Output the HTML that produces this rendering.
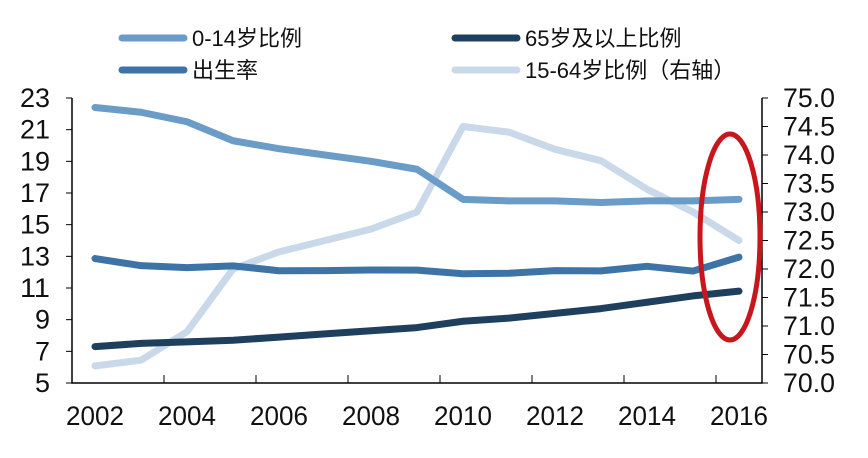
<!DOCTYPE html>
<html><head><meta charset="utf-8"><style>
body{margin:0;background:#fff;}
svg text{font-family:"Liberation Sans","Noto Sans CJK SC",sans-serif;}
</style></head><body>
<svg width="868" height="453" viewBox="0 0 868 453">
<g id="legend"></g>
<g id="axes"></g>
<g id="series"></g>
<ellipse cx="730" cy="237" rx="30" ry="103" fill="none" stroke="#c8161d" stroke-width="5"/>
</svg>
<script>
const years=[2002,2003,2004,2005,2006,2007,2008,2009,2010,2011,2012,2013,2014,2015,2016];
const child=[22.4,22.1,21.5,20.3,19.8,19.4,19.0,18.5,16.6,16.5,16.5,16.4,16.5,16.5,16.6];
const birth=[12.86,12.41,12.29,12.40,12.09,12.10,12.14,12.13,11.90,11.93,12.10,12.08,12.37,12.07,12.95];
const elder=[7.3,7.5,7.6,7.7,7.9,8.1,8.3,8.5,8.9,9.1,9.4,9.7,10.1,10.5,10.8];
const working=[70.3,70.4,70.9,72.0,72.3,72.5,72.7,73.0,74.5,74.4,74.1,73.9,73.4,73.0,72.5];
const leftTicks=[5,7,9,11,13,15,17,19,21,23];
const rightTicks=["70.0","70.5","71.0","71.5","72.0","72.5","73.0","73.5","74.0","74.5","75.0"];
const xLabels=[2002,2004,2006,2008,2010,2012,2014,2016];
const NS="http://www.w3.org/2000/svg";
const X0=72,X1=762,YT=98,YB=383;
const cw=(X1-X0)/years.length;
const xs=i=>X0+cw*(i+0.5);
const yl=v=>YB-(v-5)/18*(YB-YT);
const yr=v=>YB-(v-70)/5*(YB-YT);
function mk(t,a,p){const e=document.createElementNS(NS,t);for(const k in a)e.setAttribute(k,a[k]);p.appendChild(e);return e;}
const ax=document.getElementById('axes');
let e=mk('path',{d:`M${X0} ${YT}V${YB}H${X1}V${YT}`,fill:'none',stroke:'#000','stroke-width':1.5},ax);


leftTicks.forEach(v=>{
 const y=yl(v);
 const t=mk('line',{x1:X0-6,x2:X0,y1:y,y2:y,stroke:'#000'},ax);
 
 
 const w=String(v).length*15;
 const l=mk('text',{x:50-w,y:y+9,'font-size':27,fill:'#111',textLength:w,lengthAdjust:'spacingAndGlyphs'},ax);l.textContent=v;
 
 
});
rightTicks.forEach(s=>{
 const y=yr(parseFloat(s));
 const t=mk('line',{x1:X1,x2:X1+6,y1:y,y2:y,stroke:'#000'},ax);
 
 
 const l=mk('text',{x:783,y:y+9,'font-size':27,fill:'#111',textLength:52,lengthAdjust:'spacingAndGlyphs'},ax);l.textContent=s;
 
 
});
xLabels.forEach((yv,k)=>{
 const i=years.indexOf(yv);
 if(k<xLabels.length-1){const t=mk('line',{x1:X0+cw*(i+2),x2:X0+cw*(i+2),y1:YB,y2:YB-8,stroke:'#000'},ax);
 
 }
 const l=mk('text',{x:xs(i)-29,y:425,'font-size':27,fill:'#111',textLength:58,lengthAdjust:'spacingAndGlyphs'},ax);l.textContent=yv;
 
 
});
const sg=document.getElementById('series');
function line(vals,fy,col,name){
 const p=mk('polyline',{points:vals.map((v,i)=>xs(i)+','+fy(v)).join(' '),fill:'none',stroke:col,'stroke-width':7,'stroke-linecap':'round','stroke-linejoin':'round'},sg);
 
 
}
line(working,yr,'#c9d9ea','series-15-64-ratio');
line(child,yl,'#6b9bc7','series-0-14-ratio');
line(birth,yl,'#3d74a5','series-birth-rate');
line(elder,yl,'#1f3f5e','series-65-plus-ratio');
const lg=document.getElementById('legend');
[[122,38,'#6b9bc7','0-14岁比例','legend-0-14'],[455,38,'#1f3f5e','65岁及以上比例','legend-65-plus'],[122,70,'#3d74a5','出生率','legend-birth-rate'],[455,70,'#c9d9ea','15-64岁比例（右轴）','legend-15-64']].forEach(d=>{
 const g=mk('g',{},lg);
 
 
 mk('line',{x1:d[0],x2:d[0]+62,y1:d[1],y2:d[1],stroke:d[2],'stroke-width':7,'stroke-linecap':'round'},g);
 const t=mk('text',{x:d[0]+70,y:d[1]+8,'font-size':22,fill:'#111'},g);t.textContent=d[3];
});
</script>
</body></html>
